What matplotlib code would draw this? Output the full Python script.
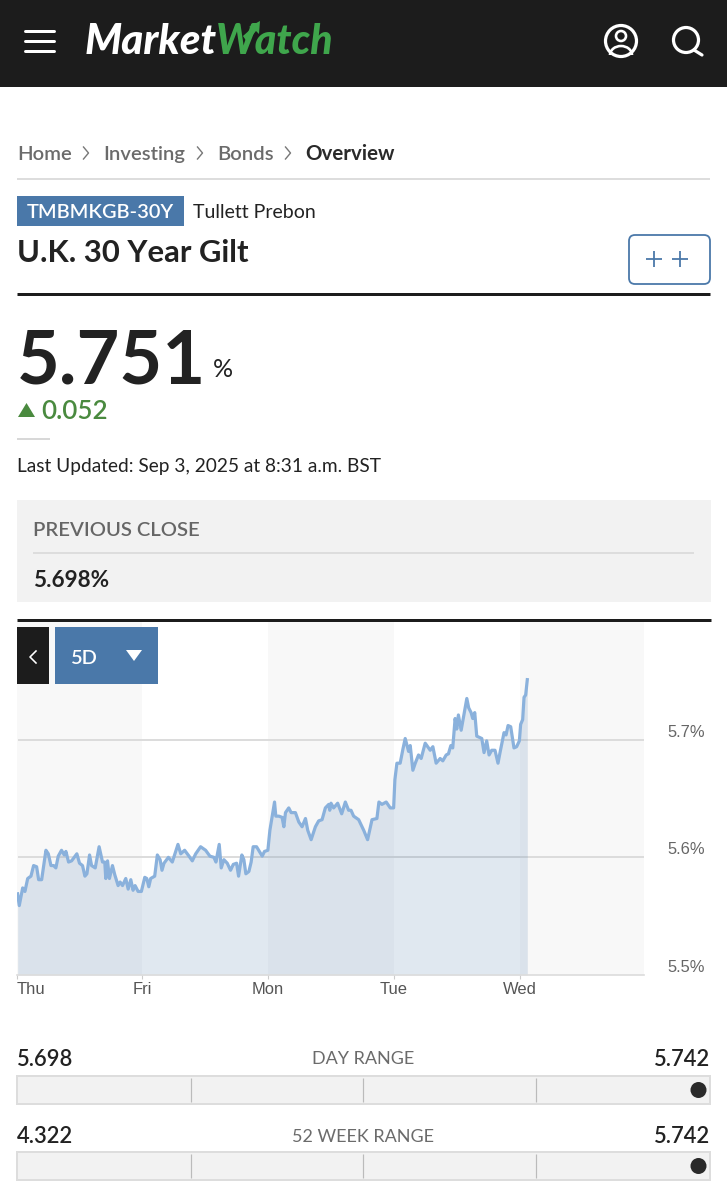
import matplotlib
matplotlib.use('Agg')
import matplotlib.pyplot as plt
from matplotlib.patches import Circle, FancyBboxPatch, Polygon, Rectangle, Arc

plt.rcParams['font.family'] = ['Lato', 'DejaVu Sans']

# 5D chart, x is in trading days counted from Thu
days = [.009, .022, .049, .067, .089, .115, .136, .160, .176, .200, .234, .253, .274, .295, .313, .332, .358, .380,
        .393, .414, .438, .480, .501, .525, .544, .560, .581, .597, .626, .657, .684, .702, .710, .724, .739, .763,
        .782, .808, .824, .843, .869, .888, .909, .927, .943, .967, .993, 1.020, 1.036, 1.052, 1.067, 1.099, 1.120,
        1.142, 1.157, 1.173, 1.208, 1.239, 1.284, 1.306, 1.337, 1.372, 1.398, 1.425, 1.464, 1.504, 1.538, 1.570,
        1.586, 1.612, 1.628, 1.649, 1.676, 1.702, 1.724, 1.750, 1.766, 1.792, 1.808, 1.824, 1.848, 1.866, 1.882,
        1.909, 1.954, 1.972, 1.999, 2.015, 2.052, 2.062, 2.086, 2.112, 2.126, 2.139, 2.165, 2.184, 2.218, 2.245,
        2.271, 2.298, 2.316, 2.343, 2.377, 2.403, 2.430, 2.456, 2.483, 2.491, 2.501, 2.522, 2.554, 2.586, 2.615,
        2.641, 2.660, 2.681, 2.721, 2.761, 2.792, 2.827, 2.866, 2.882, 2.906, 2.940, 2.972, 2.999, 3.009, 3.025,
        3.051, 3.073, 3.091, 3.118, 3.131, 3.152, 3.171, 3.197, 3.218, 3.250, 3.290, 3.311, 3.337, 3.369, 3.390,
        3.417, 3.435, 3.454, 3.469, 3.488, 3.501, 3.514, 3.536, 3.581, 3.596, 3.615, 3.628, 3.644, 3.660, 3.700,
        3.718, 3.739, 3.758, 3.779, 3.805, 3.829, 3.845, 3.877, 3.893, 3.909, 3.930, 3.956, 3.977, 3.999, 4.009,
        4.025, 4.036, 4.049, 4.062]
yields = [5.569, 5.559, 5.574, 5.571, 5.582, 5.584, 5.593, 5.592, 5.581, 5.581, 5.606, 5.603, 5.593, 5.593, 5.591,
          5.601, 5.606, 5.602, 5.605, 5.596, 5.597, 5.603, 5.595, 5.593, 5.584, 5.586, 5.602, 5.593, 5.591, 5.609,
          5.596, 5.596, 5.582, 5.597, 5.582, 5.593, 5.585, 5.576, 5.579, 5.576, 5.582, 5.573, 5.581, 5.572, 5.576,
          5.571, 5.571, 5.583, 5.582, 5.575, 5.582, 5.584, 5.602, 5.598, 5.589, 5.595, 5.600, 5.596, 5.611, 5.603,
          5.606, 5.601, 5.597, 5.603, 5.609, 5.606, 5.601, 5.600, 5.596, 5.611, 5.591, 5.598, 5.595, 5.589, 5.594,
          5.595, 5.584, 5.602, 5.598, 5.586, 5.588, 5.596, 5.609, 5.609, 5.601, 5.605, 5.606, 5.623, 5.647, 5.635,
          5.635, 5.634, 5.626, 5.638, 5.642, 5.638, 5.638, 5.630, 5.626, 5.633, 5.623, 5.615, 5.626, 5.631, 5.632,
          5.642, 5.645, 5.640, 5.646, 5.642, 5.646, 5.637, 5.647, 5.640, 5.640, 5.635, 5.632, 5.623, 5.615, 5.632,
          5.633, 5.647, 5.645, 5.647, 5.642, 5.642, 5.666, 5.680, 5.680, 5.692, 5.701, 5.690, 5.695, 5.674, 5.680,
          5.687, 5.684, 5.697, 5.691, 5.694, 5.680, 5.684, 5.682, 5.687, 5.688, 5.695, 5.693, 5.718, 5.709, 5.721,
          5.708, 5.735, 5.727, 5.723, 5.718, 5.723, 5.703, 5.701, 5.689, 5.699, 5.687, 5.691, 5.691, 5.680, 5.689,
          5.706, 5.704, 5.712, 5.711, 5.693, 5.694, 5.699, 5.713, 5.717, 5.736, 5.738, 5.751]
day_labels = ['Thu', 'Fri', 'Mon', 'Tue', 'Wed']
day_ticks = [0, 1, 2, 3, 4]
yield_ticks = [5.5, 5.6, 5.7]
yield_labels = ['5.5%', '5.6%', '5.7%']

# page text
crumbs = ['Home', 'Investing', 'Bonds']
range_rows = [('5.698', 'DAY RANGE', '5.742'), ('4.322', '52 WEEK RANGE', '5.742')]

W, H = 727, 1200
BLACK = '#1c1c1c'
BLUE = '#4a78a9'
GREEN = '#4a8a3f'
px = 0.72  # css px to points at dpi 100

fig = plt.figure(figsize=(W / 100, H / 100), dpi=100, facecolor='white')


def box(left, top, right, bottom):
    return [left / W, 1 - bottom / H, (right - left) / W, (bottom - top) / H]


# chart
ax = fig.add_axes(box(16.5, 622, 644, 975), zorder=1)
ax.set_xlim(0.015, 4.99)
ax.set_ylim(5.5, 5.8)
for d in [0, 2, 4]:
    ax.axvspan(d, min(d + 1, 4.99), color='#f8f8f8', lw=0, zorder=0)
ax.hlines([5.6, 5.7], 0.015, 4.99, color='#dcdcdc', lw=1.4, zorder=1)
ax.fill_between(days, yields, 5.5, color='#4a7aab', alpha=0.17, lw=0, zorder=2)
ax.plot(days, yields, color='#8ab1dc', lw=2.3, solid_joinstyle='round', zorder=3)
for s in ['top', 'left', 'right']:
    ax.spines[s].set_visible(False)
ax.spines['bottom'].set_color('#dcdcdc')
ax.spines['bottom'].set_linewidth(1.2)
ax.set_xticks(day_ticks, day_labels, family=['Liberation Sans'], fontsize=16.5 * px, color='#555555')
ax.get_xticklabels()[0].set_ha('left')
ax.tick_params(axis='x', length=3, width=0.8, color='#cccccc', pad=2)
ax.yaxis.tick_right()
ax.set_yticks(yield_ticks, yield_labels, family=['Liberation Sans'], fontsize=16.5 * px, color='#666666', va='bottom')
ax.tick_params(axis='y', length=0, pad=17)

# page furniture, in pixel coords
ui = fig.add_axes([0, 0, 1, 1], zorder=2)
ui.set_xlim(0, W)
ui.set_ylim(H, 0)
ui.axis('off')
ui.patch.set_visible(False)


def line(xs, ys, color, lw):
    ui.plot(xs, ys, color=color, lw=lw * px, solid_capstyle='butt')


def txt(x, y, s, size, color=BLACK, ha='left', weight='normal', **kw):
    ui.text(x, y + 1.5, s, fontsize=size * px, color=color, ha=ha, va='center', fontweight=weight, **kw)


def chevron(x, y, color, h=7, w=5, lw=1.8, left=False):
    sign = -1 if left else 1
    ui.plot([x - sign * w / 2, x + sign * w / 2, x - sign * w / 2], [y - h, y, y + h], color=color, lw=lw * px)


# header
ui.add_patch(Rectangle((0, 0), W, 87, color=BLACK, lw=0))
for y in [31, 41, 51]:
    ui.plot([25, 54], [y, y], color='white', lw=3 * px, solid_capstyle='round')
ui.text(85, 42, 'Market', fontsize=42 * px, color='white', fontweight='black', fontstyle='italic', va='center')
ui.text(216, 42, 'Watch', fontsize=41 * px, color='#3fa64c', fontweight='black', fontstyle='italic', va='center')
ui.add_patch(Polygon([[243, 36], [252, 28], [249, 27], [260, 21], [259, 34], [256, 31], [247, 42]], color='#3fa64c', lw=0))
ui.add_patch(Circle((621, 41), 15.5, fc='none', ec='white', lw=3.2 * px))
ui.add_patch(Circle((621, 36), 5, fc='none', ec='white', lw=2.6 * px))
ui.add_patch(Arc((621, 55), 22, 18, theta1=180, theta2=360, ec='white', lw=2.6 * px))
ui.add_patch(Circle((686, 40), 12.5, fc='none', ec='white', lw=3.2 * px))
ui.plot([694, 702], [50, 55], color='white', lw=3.2 * px, solid_capstyle='round')

# breadcrumb
for x, s in zip([17, 103, 217], crumbs):
    txt(x, 153, s, 20.3, '#6b6b6b', weight='semibold')
for x in [86, 200, 288]:
    chevron(x, 153, '#777777', h=6, w=5, lw=1.4)
txt(305, 153, 'Overview', 20.5, '#2a2a2a', weight='bold')
line([17, 710], [179, 179], '#dddddd', 2)

# title block
ui.add_patch(Rectangle((17, 196), 167, 30, color=BLUE, lw=0))
txt(100.5, 211, 'TMBMKGB-30Y', 20, 'white', ha='center', weight='semibold')
txt(193, 211, 'Tullett Prebon', 19.5, '#222222')
txt(17, 252, 'U.K. 30 Year Gilt', 31, '#222222', weight='bold')
ui.add_patch(FancyBboxPatch((632, 238), 75, 43, boxstyle='round,pad=3,rounding_size=6', fc='white', ec=BLUE, lw=1.8 * px))
for x in [654, 680]:
    line([x - 8, x + 8], [259, 259], BLUE, 1.8)
    line([x, x], [251, 267], BLUE, 1.8)
line([17, 710], [294, 294], BLACK, 3)

# quote
ui.text(17, 383, '5.751', fontsize=74 * px, color='#222222', fontweight='bold', va='baseline')
txt(213, 368, '%', 25, '#222222')
ui.add_patch(Polygon([[18, 417], [35, 417], [26.5, 403]], color=GREEN, lw=0))
txt(41, 410, '0.052', 26, GREEN, weight='semibold')
line([17, 50], [439, 439], '#cccccc', 1.5)
txt(17, 465, 'Last Updated: Sep 3, 2025 at 8:31 a.m. BST', 19.2, '#222222')

# previous close panel
ui.add_patch(Rectangle((17, 500), 694, 102, color='#f2f2f2', lw=0))
txt(33, 529, 'PREVIOUS CLOSE', 20.3, '#666666', weight='semibold')
line([33, 694], [553, 553], '#dddddd', 2)
txt(33, 579, '5.698%', 22.5, '#222222', weight='bold')
line([17, 711], [620, 620], BLACK, 3)

# chart buttons
ui.add_patch(Rectangle((17, 627), 32, 57, color=BLACK, lw=0))
chevron(33, 657, 'white', h=6, w=6, lw=1.6, left=True)
ui.add_patch(Rectangle((55, 627), 103, 57, color=BLUE, lw=0))
txt(71, 657, '5D', 20, 'white', weight='semibold')
ui.add_patch(Polygon([[126, 650], [142, 650], [134, 661]], color='white', lw=0))

# range bars
for (low, title, high), label_y, top in zip(range_rows, [1058, 1135], [1076, 1152]):
    txt(17, label_y, low, 22, '#222222', weight='semibold')
    txt(363, label_y, title, 18, '#6b6b6b', ha='center')
    txt(710, label_y, high, 22, '#222222', ha='right', weight='semibold')
    ui.add_patch(Rectangle((17, top), 693, 28, fc='#f2f2f2', ec='#dddddd', lw=2 * px))
    for x in [190.5, 362.5, 536]:
        line([x, x], [top + 2, top + 26], '#bbbbbb', 1.2)
    ui.add_patch(Circle((698.5, top + 14), 8, color='#2a2a2a', lw=0))

fig.savefig('out.png', dpi=100)
